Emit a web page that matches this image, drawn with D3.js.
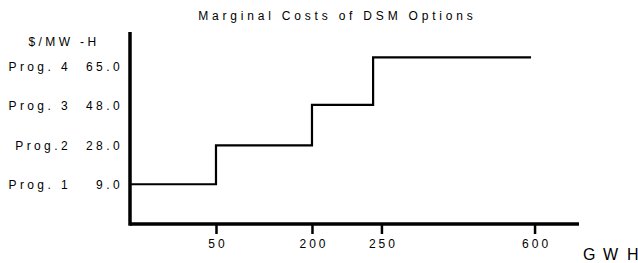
<!DOCTYPE html>
<html>
<head>
<meta charset="utf-8">
<script src="https://cdn.jsdelivr.net/npm/d3@7"></script>
<style>
  html, body { margin: 0; padding: 0; background: #fff; }
  svg { display: block; }
  text { font-family: "Liberation Sans", Arial, sans-serif; fill: #000; white-space: pre; }
</style>
</head>
<body>
<svg id="chart" width="638" height="263"></svg>
<script>
// ---- data ----
const title = "Marginal Costs of DSM Options";
const yUnit = "$/MW -H";
const xUnitLetters = ["G", "W", "H"];
const programs = ["Prog. 1", "Prog.2", "Prog. 3", "Prog. 4"];
const costs = [9.0, 28.0, 48.0, 65.0];
// cumulative GWh where each program's step starts/ends
const stepBreaks = [0, 50, 200, 244, 592];
const xTickValues = [50, 200, 250, 600];
const xTickLabels = ["50", "200", "250", "600"];

// ---- layout ----
const W = 638, H = 263;
const margin = { left: 130, right: 59, top: 32, bottom: 39 };
const pw = W - margin.left - margin.right;
const ph = H - margin.top - margin.bottom;

const svg = d3.select("#chart");
const g = svg.append("g").attr("transform", `translate(${margin.left},${margin.top})`);

// piecewise (non-uniform) axis, as in the original
const x = d3.scaleLinear()
  .domain([0, 50, 200, 250, 600])
  .range([0, 0.1915, 0.4053, 0.560, 0.901].map(f => f * pw));

const y = d3.scaleLinear()
  .domain(costs)
  .range([0.793, 0.590, 0.380, 0.132].map(f => f * ph));

const yLab = d3.scalePoint()
  .domain(programs)
  .range([0.797 * ph, 0.181 * ph]);

// step line
const pts = [];
costs.forEach((c, i) => {
  pts.push([stepBreaks[i], c]);
  pts.push([stepBreaks[i + 1], c]);
});
g.append("path")
  .datum(pts)
  .attr("fill", "none")
  .attr("stroke", "#000")
  .attr("stroke-width", 2.2)
  .attr("stroke-linejoin", "miter")
  .attr("d", d3.line().x(d => x(d[0])).y(d => y(d[1])));

// x axis
const xAxis = d3.axisBottom(x)
  .tickValues(xTickValues)
  .tickFormat((d, i) => xTickLabels[i])
  .tickSize(10)
  .tickPadding(5);
const xg = g.append("g").attr("transform", `translate(0,${ph})`).call(xAxis);
xg.select(".domain").remove();
xg.selectAll(".tick line").attr("stroke", "#000").attr("stroke-width", 2.5);
xg.selectAll(".tick text")
  .attr("font-size", 12)
  .attr("font-family", "Liberation Sans, Arial, sans-serif")
  .attr("letter-spacing", "3px")
  .attr("dx", "1.5px");

g.append("line")
  .attr("x1", 0).attr("x2", pw)
  .attr("y1", ph).attr("y2", ph)
  .attr("stroke", "#000").attr("stroke-width", 3.5);

// y axis
g.append("line")
  .attr("x1", 0).attr("x2", 0)
  .attr("y1", 0).attr("y2", ph + 1.75)
  .attr("stroke", "#000").attr("stroke-width", 3.5);

// y labels
programs.forEach((p, i) => {
  const yy = yLab(p) + 4.3;
  g.append("text")
    .attr("x", -59).attr("y", yy)
    .attr("text-anchor", "end")
    .attr("font-size", 12)
    .attr("letter-spacing", "3.4px")
    .text(p);
  g.append("text")
    .attr("x", -7).attr("y", yy)
    .attr("text-anchor", "end")
    .attr("font-size", 12)
    .attr("letter-spacing", "3.4px")
    .text(costs[i].toFixed(1));
});

// y unit
g.append("text")
  .attr("x", -66).attr("y", 41.7 - margin.top + 4.3)
  .attr("text-anchor", "middle")
  .attr("font-size", 12)
  .attr("letter-spacing", "3.4px")
  .text(yUnit);

// x unit, letters spaced out like the original
const unitX = d3.scalePoint().domain(xUnitLetters).range([583, 627]);
svg.selectAll("text.unit")
  .data(xUnitLetters)
  .join("text")
  .attr("class", "unit")
  .attr("x", d => unitX(d) + (d === "W" ? -2 : 0))
  .attr("y", 260)
  .attr("font-size", 16)
  .text(d => d);

// title
svg.append("text")
  .attr("x", 337.4).attr("y", 20)
  .attr("text-anchor", "middle")
  .attr("font-size", 12)
  .attr("letter-spacing", "3.8px")
  .text(title);
</script>
</body>
</html>
